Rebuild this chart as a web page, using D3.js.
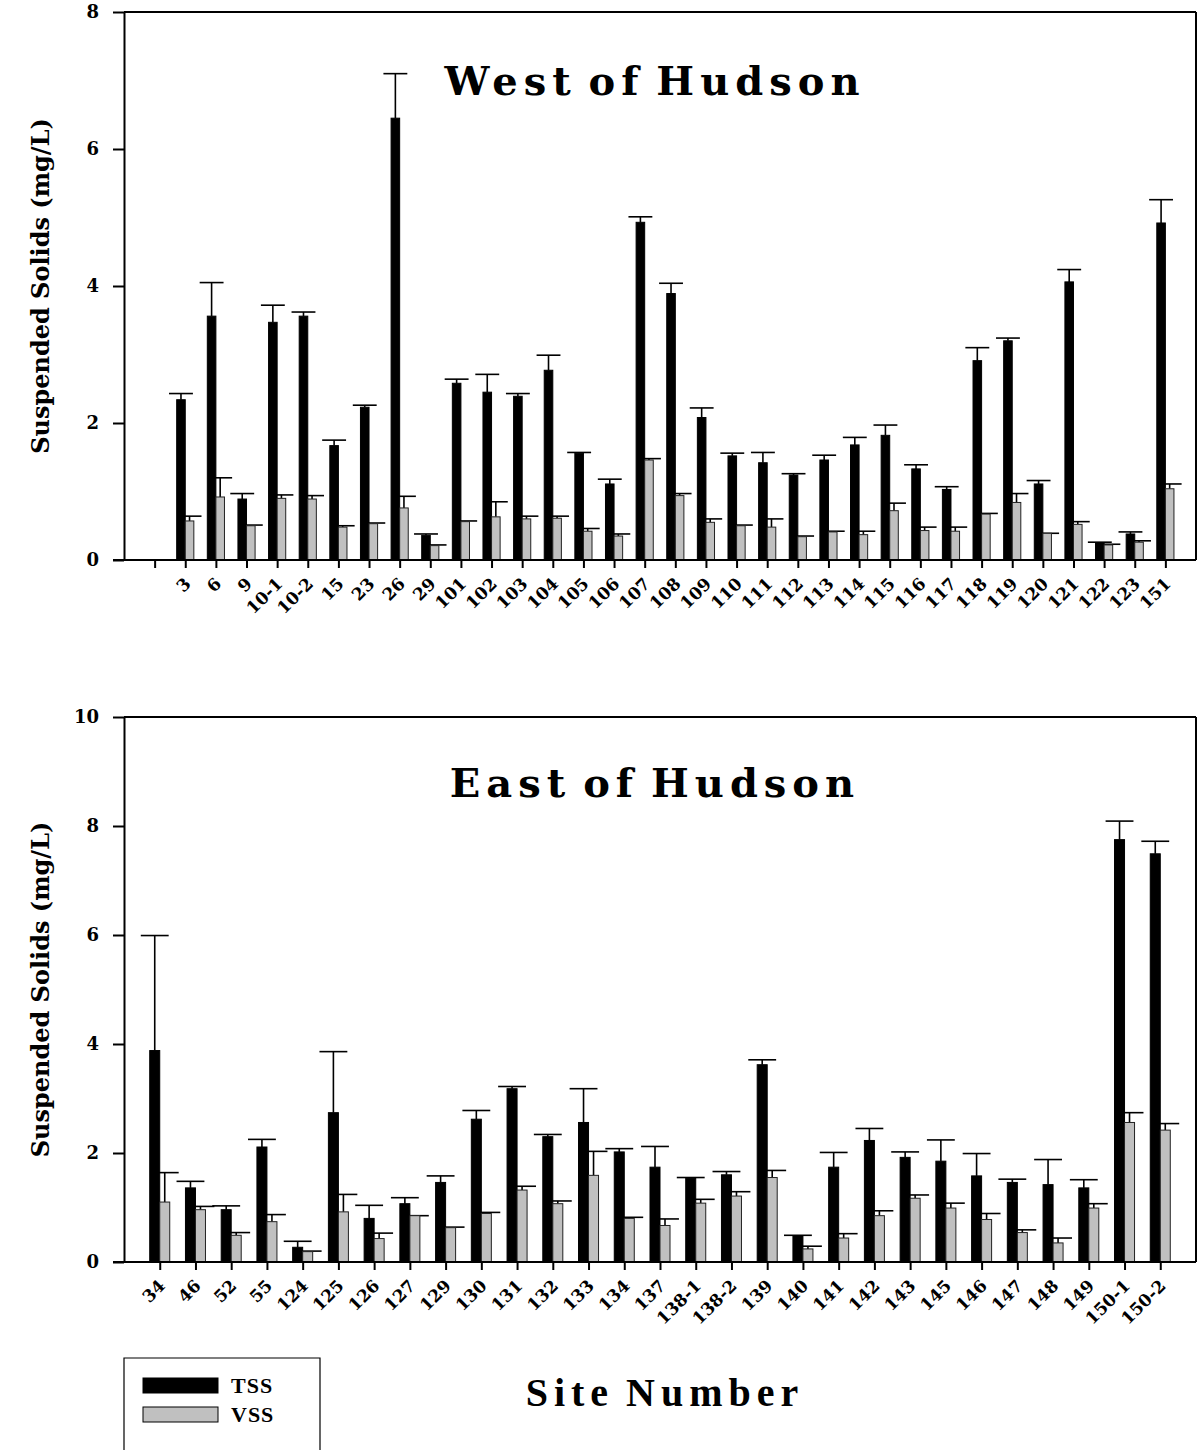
<!DOCTYPE html>
<html><head><meta charset="utf-8">
<script src="https://cdn.jsdelivr.net/npm/d3@7/dist/d3.min.js"></script>
<style>body{margin:0;background:#fff}svg{display:block}</style>
</head><body><svg id="c" width="1198" height="1450"></svg>
<script>
// ---------- data ----------
const westSites = ["", "3", "6", "9", "10-1", "10-2", "15", "23", "26", "29", "101", "102", "103", "104", "105", "106", "107", "108", "109", "110", "111", "112", "113", "114", "115", "116", "117", "118", "119", "120", "121", "122", "123", "151"];
const westTSS    = [null, 2.34, 3.56, 0.89, 3.47, 3.56, 1.67, 2.23, 6.45, 0.36, 2.58, 2.45, 2.39, 2.77, 1.56, 1.11, 4.93, 3.89, 2.08, 1.52, 1.42, 1.24, 1.46, 1.68, 1.82, 1.33, 1.03, 2.91, 3.20, 1.11, 4.06, 0.25, 0.38, 4.92];
const westTSSerr = [null, 2.43, 4.05, 0.97, 3.72, 3.62, 1.75, 2.26, 7.10, 0.38, 2.64, 2.71, 2.43, 2.99, 1.57, 1.18, 5.01, 4.04, 2.22, 1.56, 1.57, 1.26, 1.53, 1.79, 1.97, 1.39, 1.07, 3.10, 3.24, 1.16, 4.24, 0.26, 0.41, 5.26];
const westVSS    = [null, 0.57, 0.92, 0.50, 0.90, 0.89, 0.48, 0.53, 0.76, 0.21, 0.56, 0.63, 0.60, 0.61, 0.42, 0.35, 1.46, 0.94, 0.55, 0.50, 0.48, 0.34, 0.41, 0.37, 0.72, 0.43, 0.42, 0.67, 0.84, 0.39, 0.52, 0.22, 0.26, 1.04];
const westVSSerr = [null, 0.64, 1.20, 0.51, 0.95, 0.94, 0.50, 0.54, 0.93, 0.22, 0.57, 0.85, 0.64, 0.64, 0.46, 0.38, 1.48, 0.97, 0.60, 0.51, 0.60, 0.35, 0.42, 0.42, 0.83, 0.48, 0.48, 0.68, 0.97, 0.39, 0.56, 0.23, 0.28, 1.11];
const westTicks = [0, 2, 4, 6, 8];

const eastSites = ["34", "46", "52", "55", "124", "125", "126", "127", "129", "130", "131", "132", "133", "134", "137", "138-1", "138-2", "139", "140", "141", "142", "143", "145", "146", "147", "148", "149", "150-1", "150-2"];
const eastTSS    = [3.88, 1.36, 0.96, 2.11, 0.27, 2.74, 0.80, 1.07, 1.46, 2.62, 3.18, 2.30, 2.56, 2.02, 1.74, 1.54, 1.60, 3.62, 0.48, 1.74, 2.23, 1.92, 1.85, 1.58, 1.46, 1.42, 1.36, 7.75, 7.49];
const eastTSSerr = [5.99, 1.48, 1.03, 2.25, 0.38, 3.86, 1.04, 1.18, 1.58, 2.78, 3.22, 2.34, 3.18, 2.08, 2.12, 1.55, 1.66, 3.71, 0.49, 2.01, 2.45, 2.02, 2.24, 1.99, 1.52, 1.88, 1.51, 8.09, 7.72];
const eastVSS    = [1.10, 0.96, 0.49, 0.74, 0.19, 0.92, 0.43, 0.85, 0.63, 0.89, 1.32, 1.07, 1.59, 0.80, 0.67, 1.08, 1.21, 1.55, 0.24, 0.44, 0.85, 1.17, 0.99, 0.78, 0.54, 0.35, 0.99, 2.56, 2.42];
const eastVSSerr = [1.64, 1.02, 0.54, 0.87, 0.20, 1.24, 0.53, 0.85, 0.64, 0.91, 1.39, 1.12, 2.03, 0.82, 0.79, 1.15, 1.29, 1.68, 0.29, 0.52, 0.94, 1.23, 1.08, 0.89, 0.59, 0.44, 1.07, 2.74, 2.54];
const eastTicks = [0, 2, 4, 6, 8, 10];

const seriesNames = ["TSS", "VSS"];
const seriesColors = ["#000000", "#c0c0c0"];

// ---------- drawing ----------
const svg = d3.select("#c");
const SERIF = "'DejaVu Serif', serif";

function panel(o) {
  const {sites, tss, tssErr, vss, vssErr, ticks, yMax, top, bottom, title, titleY} = o;
  const left = 124, right = 1196;
  const g = svg.append("g");
  const x = d3.scalePoint().domain(d3.range(sites.length)).range([left, right]).padding(1);
  const step = x.step();
  const y = d3.scaleLinear().domain([0, yMax]).range([bottom, top]);
  const bw = step * 0.28, cap = step * 0.78;

  // frame
  g.append("line").attr("x1", left).attr("x2", right).attr("y1", top).attr("y2", top).attr("stroke", "#000").attr("stroke-width", 2);
  g.append("line").attr("x1", right).attr("x2", right).attr("y1", top).attr("y2", bottom).attr("stroke", "#000").attr("stroke-width", 2);

  const rows = sites.map((s, i) => ({i, s, t: tss[i], te: tssErr[i], v: vss[i], ve: vssErr[i]}));
  const data = rows.filter(d => d.t != null);

  // error bars (drawn first so bars cover them)
  const errs = [];
  data.forEach(d => {
    errs.push({cx: x(d.i) - bw / 2, v: d.t, e: d.te});
    errs.push({cx: x(d.i) + bw / 2, v: d.v, e: d.ve});
  });
  g.selectAll(".ev").data(errs).join("line")
    .attr("x1", d => d.cx).attr("x2", d => d.cx)
    .attr("y1", d => y(d.v)).attr("y2", d => y(d.e))
    .attr("stroke", "#000").attr("stroke-width", 1.6);
  g.selectAll(".ec").data(errs).join("line")
    .attr("x1", d => d.cx - cap / 2).attr("x2", d => d.cx + cap / 2)
    .attr("y1", d => y(d.e)).attr("y2", d => y(d.e))
    .attr("stroke", "#000").attr("stroke-width", 1.6);

  // bars
  g.selectAll(".bt").data(data).join("rect")
    .attr("x", d => x(d.i) - bw).attr("width", bw)
    .attr("y", d => y(d.t)).attr("height", d => y(0) - y(d.t))
    .attr("fill", seriesColors[0]).attr("stroke", "#000").attr("stroke-width", 1);
  g.selectAll(".bv").data(data).join("rect")
    .attr("x", d => x(d.i)).attr("width", bw)
    .attr("y", d => y(d.v)).attr("height", d => y(0) - y(d.v))
    .attr("fill", seriesColors[1]).attr("stroke", "#222").attr("stroke-width", 1);

  // y axis
  const ya = g.append("g").attr("transform", `translate(${left},0)`)
    .call(d3.axisLeft(y).tickValues(ticks).tickSize(11).tickSizeOuter(0).tickPadding(14).tickFormat(d3.format("d")));
  ya.select(".domain").attr("stroke-width", 2);
  ya.selectAll(".tick line").attr("stroke-width", 2);
  ya.selectAll("text").attr("font-family", SERIF).attr("font-weight", "bold").attr("font-size", 18).attr("fill", "#000");

  // x axis
  const xa = g.append("g").attr("transform", `translate(0,${bottom})`)
    .call(d3.axisBottom(x).tickSize(8).tickSizeOuter(0).tickFormat(i => sites[i]));
  xa.select(".domain").attr("d", `M${left - 11},0H${right}`).attr("stroke-width", 2);
  xa.selectAll(".tick line").attr("stroke-width", 2);
  xa.selectAll("text")
    .attr("font-family", SERIF).attr("font-weight", "bold").attr("font-size", 17).attr("fill", "#000")
    .attr("text-anchor", "end").attr("dy", "0")
    .attr("transform", "translate(6,25) rotate(-45)")
    .attr("y", 0).attr("x", 0);

  // y label
  g.append("text")
    .attr("transform", `translate(49,${(top + bottom) / 2}) rotate(-90)`)
    .attr("text-anchor", "middle")
    .attr("font-family", SERIF).attr("font-weight", "bold").attr("font-size", 24)
    .text("Suspended Solids (mg/L)");

  // title
  g.append("text")
    .attr("x", 655).attr("y", titleY).attr("text-anchor", "middle")
    .attr("font-family", SERIF).attr("font-weight", "bold").attr("font-size", 40)
    .attr("letter-spacing", 6).attr("word-spacing", -8)
    .text(title);
}

panel({sites: westSites, tss: westTSS, tssErr: westTSSerr, vss: westVSS, vssErr: westVSSerr,
  ticks: westTicks, yMax: 8, top: 12, bottom: 560, title: "West of Hudson", titleY: 95});
panel({sites: eastSites, tss: eastTSS, tssErr: eastTSSerr, vss: eastVSS, vssErr: eastVSSerr,
  ticks: eastTicks, yMax: 10, top: 717, bottom: 1262, title: "East of Hudson", titleY: 797});

// legend
const lg = svg.append("g");
lg.append("path").attr("d", "M124,1460V1358H320V1460").attr("fill", "none").attr("stroke", "#000").attr("stroke-width", 1.2);
seriesNames.forEach((n, i) => {
  const yy = 1378 + i * 29;
  lg.append("rect").attr("x", 143).attr("y", yy).attr("width", 75).attr("height", 15)
    .attr("fill", seriesColors[i]).attr("stroke", "#000").attr("stroke-width", 1);
  lg.append("text").attr("x", 231).attr("y", yy + 15)
    .attr("font-family", "'Liberation Serif', serif").attr("font-weight", "bold").attr("font-size", 22)
    .attr("letter-spacing", 1).text(n);
});
svg.append("text").attr("x", 665).attr("y", 1406).attr("text-anchor", "middle")
  .attr("font-family", "'Liberation Serif', serif").attr("font-weight", "bold").attr("font-size", 40)
  .attr("letter-spacing", 6).attr("word-spacing", -4).text("Site Number");
</script>
</body></html>
